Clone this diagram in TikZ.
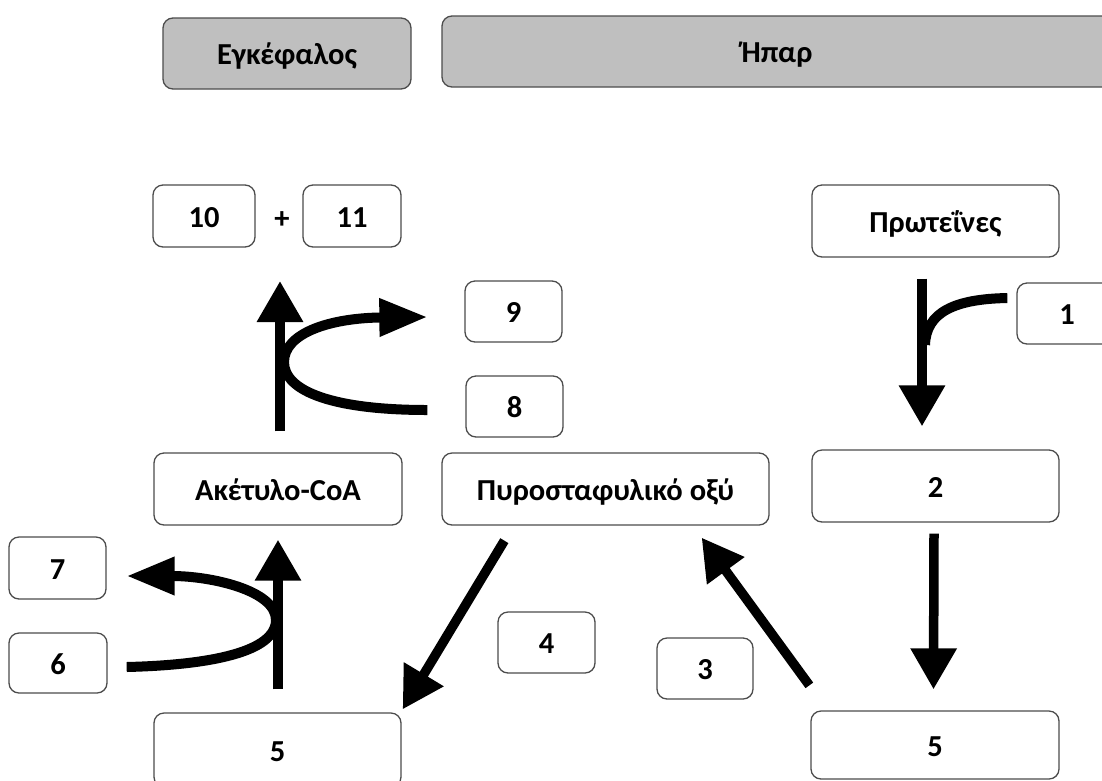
\documentclass[tikz,border=0pt]{standalone}
\usepackage{fontspec}
\setmainfont{Carlito}
\usetikzlibrary{arrows.meta}
\begin{document}
\begin{tikzpicture}[x=1pt,y=-1pt,
  lbl/.style={font=\fontsize{30.5}{33}\selectfont\bfseries, text height=23pt, text depth=1pt},
  box/.style={lbl, draw=black!70, line width=1.3pt, rounded corners=10pt, fill=white, inner sep=0pt},
  hdr/.style={box, fill=black!25},
  bigarrow/.style={line width=9.5pt, -{Triangle[length=41pt,width=44pt]}},
  curvearrow/.style={line width=10pt, -{Triangle[length=48pt,width=36pt]}},
  curveline/.style={line width=10pt}
]
\useasboundingbox (0,0) rectangle (1102,780);

% header boxes
\node[hdr, minimum width=248pt, minimum height=71pt] (eg) at (287,53.5) {Εγκέφαλος};
\node[hdr, minimum width=670pt, minimum height=71pt] (ip) at (777,51.5) {Ήπαρ};

% boxes
\node[box, minimum width=102pt, minimum height=62pt] (n10) at (204,216) {10};
\node[lbl, inner sep=0pt] (plus) at (282,217) {+};
\node[box, minimum width=98pt, minimum height=62pt] (n11) at (352,216) {11};
\node[box, minimum width=247pt, minimum height=72pt] (pr) at (935.5,221) {Πρωτεΐνες};
\node[box, minimum width=97pt, minimum height=61pt] (n9) at (513.5,311.5) {9};
\node[box, minimum width=100pt, minimum height=61pt] (n1) at (1067,313.5) {1};
\node[box, minimum width=97pt, minimum height=61pt] (n8) at (514.5,406.5) {8};
\node[box, minimum width=248pt, minimum height=72pt] (ak) at (278,489) {Ακέτυλο-CoA};
\node[box, minimum width=327pt, minimum height=72pt] (py) at (605.5,489) {Πυροσταφυλικό οξύ};
\node[box, minimum width=247pt, minimum height=72pt] (n2) at (935.5,486) {2};
\node[box, minimum width=97pt, minimum height=62pt] (n7) at (57.5,568) {7};
\node[box, minimum width=98pt, minimum height=60pt] (n6) at (58,663) {6};
\node[box, minimum width=97pt, minimum height=61pt] (n4) at (546.5,642.5) {4};
\node[box, minimum width=96pt, minimum height=61pt] (n3) at (705,668.5) {3};
\node[box, minimum width=247pt, minimum height=74pt] (n5l) at (277.5,750) {5};
\node[box, minimum width=248pt, minimum height=68pt] (n5r) at (935,745) {5};

% straight arrows
\draw[bigarrow] ([shift={(-13.5,21)}]pr.south) -- ([shift={(-13.5,-23)}]n2.north);
\draw[bigarrow] ([shift={(-1.5,11)}]n2.south) -- ([shift={(-1.5,-21)}]n5r.north);
\draw[bigarrow] ([shift={(-1,-25)}]n5r.north west) -- ([shift={(-68,12)}]py.south east);
\draw[bigarrow] ([shift={(63,15)}]py.south west) -- ([shift={(1,-3)}]n5l.north east);
\coordinate (a5tip) at (280,281);
\draw[bigarrow] ([shift={(2,-21)}]ak.north) -- (a5tip);
\draw[bigarrow] ([shift={(0.5,-23)}]n5l.north) -- ([shift={(0,14)}]ak.south);

% curved arrows
\draw[curvearrow] ([shift={(-38,3.5)}]n8.west) .. controls (335,410) and (284,392) .. (284,362)
   .. controls (284,333) and (330,318) .. ([shift={(-37,5.5)}]n9.west);
\draw[curvearrow] ([shift={(19,4)}]n6.east) .. controls (210,665) and (276,652) .. (276,620)
   .. controls (276,590) and (210,576) .. ([shift={(20,8)}]n7.east);
\coordinate (a1join) at (925,345);
\draw[curveline] ([shift={(-9,-15.5)}]n1.west) .. controls (955,299) and (926,312) .. (a1join);
\end{tikzpicture}
\end{document}
